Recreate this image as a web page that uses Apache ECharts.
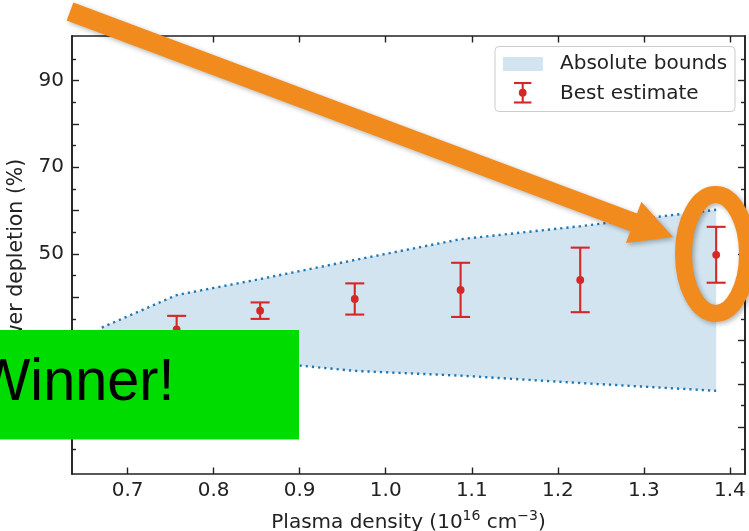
<!DOCTYPE html>
<html>
<head>
    <meta charset="UTF-8">
    <title>Power depletion vs plasma density</title>
    <script src="https://cdn.jsdelivr.net/npm/echarts@6/dist/echarts.min.js"></script>
    <style>
        html, body { margin: 0; padding: 0; background: #fff; }
        #main { width: 749px; height: 531px; }
    </style>
</head>
<body>
    <div id="main"></div>
    <script>
        // values
        var density = [0.670, 0.757, 0.854, 0.964, 1.087, 1.226, 1.384];
        var bestEstimate = [29.5, 32.6, 36.9, 39.6, 41.7, 44.0, 49.8];
        var estimateError = [1.5, 3.1, 1.9, 3.6, 6.25, 7.45, 6.45];
        var upperBound = [33.0, 40.5, 44.2, 48.6, 53.4, 56.4, 60.2];
        var lowerBound = [27.8, 26.8, 25.1, 23.0, 21.9, 20.2, 18.4];

        var xTickValues = [0.7, 0.8, 0.9, 1.0, 1.1, 1.2, 1.3, 1.4];
        var yLabelValues = [10, 30, 50, 70, 90];
        var yMajorTicks = [10, 20, 30, 40, 50, 60, 70, 80, 90];
        var yMinorTicks = [5, 15, 25, 35, 45, 55, 65, 75, 85, 95];

        var X_MIN = 0.6354, X_MAX = 1.4175;
        var Y_MIN = -0.8, Y_MAX = 100.3;

        var FONT = 'DejaVu Sans';
        var INK = '#222';
        var RED = '#d62728';
        var BLUE = '#1f77b4';
        var FILL = '#d2e4f0';
        var ORANGE = '#f28b1e';

        var chart = echarts.init(document.getElementById('main'), null, {renderer: 'canvas'});

        var axisLine = {show: true, onZero: false, lineStyle: {color: INK, width: 1.6}};

        function xAxisOf(pos, withLabels) {
            return {
                type: 'value', position: pos, min: X_MIN, max: X_MAX,
                axisLine: axisLine,
                axisTick: {show: true, inside: true, length: 6.5, customValues: xTickValues,
                           lineStyle: {color: INK, width: 1.4}},
                axisLabel: {show: withLabels, customValues: xTickValues, margin: 7,
                            formatter: function (v) { return v.toFixed(1); },
                            fontSize: 20, fontFamily: FONT, color: INK},
                splitLine: {show: false}
            };
        }

        function yAxisOf(pos, ticks, len, withLabels) {
            return {
                type: 'value', position: pos, min: Y_MIN, max: Y_MAX,
                axisLine: axisLine,
                axisTick: {show: true, inside: true, length: len, customValues: ticks,
                           lineStyle: {color: INK, width: 1.4}},
                axisLabel: {show: withLabels, customValues: yLabelValues, margin: 8,
                            fontSize: 20, fontFamily: FONT, color: INK},
                splitLine: {show: false}
            };
        }

        var xBottom = xAxisOf('bottom', true);
        xBottom.name = '{n|Plasma density (10}{s|16}{n| cm}{s|\u22123}{n|)}';
        xBottom.nameLocation = 'middle';
        xBottom.nameGap = 35;
        xBottom.nameTextStyle = {
            rich: {
                n: {fontSize: 20, fontFamily: FONT, color: INK, lineHeight: 28},
                s: {fontSize: 14, fontFamily: FONT, color: INK, lineHeight: 16, verticalAlign: 'top'}
            }
        };

        var yLeft = yAxisOf('left', yMajorTicks, 7, true);
        yLeft.name = 'Power depletion (%)';
        yLeft.nameLocation = 'middle';
        yLeft.nameGap = 34;
        yLeft.nameTextStyle = {fontSize: 20.5, fontFamily: FONT, color: INK, padding: [0, 14, 0, 0]};

        var bandData = [[0]];
        var upperData = [];
        var lowerData = [];
        var estimateData = [];
        for (var i = 0; i < density.length; i++) {
            upperData.push([density[i], upperBound[i]]);
            lowerData.push([density[i], lowerBound[i]]);
            estimateData.push([density[i], bestEstimate[i], estimateError[i]]);
        }

        function arrowPoints(tail, tip, sw, hw, hl) {
            var dx = tip[0] - tail[0], dy = tip[1] - tail[1];
            var L = Math.sqrt(dx * dx + dy * dy);
            var ux = dx / L, uy = dy / L, nx = -uy, ny = ux;
            var bx = tip[0] - ux * hl, by = tip[1] - uy * hl;
            return [
                [tail[0] + nx * sw, tail[1] + ny * sw],
                [bx + nx * sw, by + ny * sw],
                [bx + nx * hw, by + ny * hw],
                tip,
                [bx - nx * hw, by - ny * hw],
                [bx - nx * sw, by - ny * sw],
                [tail[0] - nx * sw, tail[1] - ny * sw]
            ];
        }

        var shadow = {shadowColor: 'rgba(0,0,0,0.3)', shadowBlur: 5, shadowOffsetX: 2, shadowOffsetY: 2};

        var option = {
            animation: false,
            backgroundColor: '#fff',
            grid: {left: 72, right: 4, top: 36, bottom: 57, outerBoundsMode: 'none'},
            xAxis: [xBottom, xAxisOf('top', false)],
            yAxis: [
                yLeft,
                yAxisOf('left', yMinorTicks, 4, false),
                yAxisOf('right', yMajorTicks, 7, false),
                yAxisOf('right', yMinorTicks, 4, false)
            ],
            series: [
                {
                    name: 'Absolute bounds',
                    type: 'custom',
                    data: bandData,
                    z: 1,
                    renderItem: function (params, api) {
                        var pts = [];
                        for (var k = 0; k < density.length; k++) {
                            pts.push(api.coord([density[k], upperBound[k]]));
                        }
                        for (var k = density.length - 1; k >= 0; k--) {
                            pts.push(api.coord([density[k], lowerBound[k]]));
                        }
                        return {type: 'polygon', shape: {points: pts}, style: {fill: FILL}};
                    }
                },
                {
                    type: 'line', data: upperData, showSymbol: false, z: 2,
                    lineStyle: {color: BLUE, width: 2.4, type: [2.2, 4.0]}
                },
                {
                    type: 'line', data: lowerData, showSymbol: false, z: 2,
                    lineStyle: {color: BLUE, width: 2.4, type: [2.2, 4.0]}
                },
                {
                    name: 'Best estimate',
                    type: 'custom',
                    data: estimateData,
                    z: 3,
                    renderItem: function (params, api) {
                        var x = api.value(0), y = api.value(1), e = api.value(2);
                        var c = api.coord([x, y]);
                        var hi = api.coord([x, y + e]);
                        var lo = api.coord([x, y - e]);
                        var hw = 9.5;
                        var st = {stroke: RED, lineWidth: 2.1};
                        return {
                            type: 'group',
                            children: [
                                {type: 'line', shape: {x1: c[0], y1: hi[1], x2: c[0], y2: lo[1]}, style: st},
                                {type: 'line', shape: {x1: c[0] - hw, y1: hi[1], x2: c[0] + hw, y2: hi[1]}, style: st},
                                {type: 'line', shape: {x1: c[0] - hw, y1: lo[1], x2: c[0] + hw, y2: lo[1]}, style: st},
                                {type: 'circle', shape: {cx: c[0], cy: c[1], r: 3.9}, style: {fill: RED}}
                            ]
                        };
                    }
                }
            ],
            graphic: [
                // legend
                {type: 'rect', z: 50, shape: {x: 495, y: 46.5, width: 240, height: 65, r: 4},
                 style: {fill: 'rgba(255,255,255,0.85)', stroke: '#cccccc', lineWidth: 1}},
                {type: 'rect', z: 51, shape: {x: 503, y: 57, width: 40, height: 14}, style: {fill: FILL}},
                {type: 'text', z: 51, style: {text: 'Absolute bounds', x: 560, y: 63.5, fill: INK,
                 font: '20px "DejaVu Sans"', verticalAlign: 'middle'}},
                {type: 'line', z: 51, shape: {x1: 522.7, y1: 83, x2: 522.7, y2: 102.5}, style: {stroke: RED, lineWidth: 2.1}},
                {type: 'line', z: 51, shape: {x1: 514, y1: 83, x2: 531.4, y2: 83}, style: {stroke: RED, lineWidth: 2.1}},
                {type: 'line', z: 51, shape: {x1: 514, y1: 102.5, x2: 531.4, y2: 102.5}, style: {stroke: RED, lineWidth: 2.1}},
                {type: 'circle', z: 51, shape: {cx: 522.7, cy: 92.7, r: 3.9}, style: {fill: RED}},
                {type: 'text', z: 51, style: {text: 'Best estimate', x: 560, y: 93.3, fill: INK,
                 font: '20px "DejaVu Sans"', verticalAlign: 'middle'}},
                // annotations drawn over the figure
                {type: 'rect', z: 100, shape: {x: 0, y: 330, width: 299, height: 109.5}, style: {fill: '#00dc00'}},
                {type: 'text', z: 101, x: -24, y: 383, scaleX: 0.96,
                 style: {text: 'Winner!', x: 0, y: 0, fill: '#000',
                 font: '60px "Liberation Sans"', verticalAlign: 'middle'}},
                {type: 'ellipse', z: 100, shape: {cx: 715.5, cy: 254, rx: 32, ry: 59.5},
                 style: Object.assign({fill: null, stroke: ORANGE, lineWidth: 17}, shadow)},
                {type: 'polygon', z: 100,
                 shape: {points: arrowPoints([70, 11.5], [673, 237], 9.5, 22, 42)},
                 style: Object.assign({fill: ORANGE}, shadow)}
            ]
        };

        chart.setOption(option);
    </script>
</body>
</html>
